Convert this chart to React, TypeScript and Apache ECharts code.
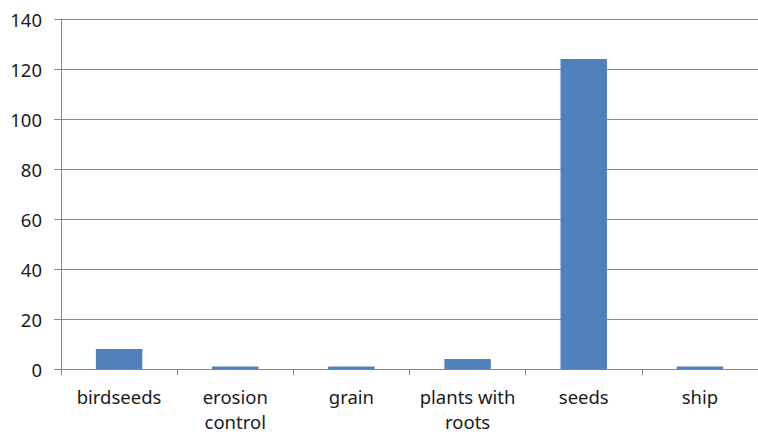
import React, { useEffect, useRef } from "react";
import * as echarts from "echarts";

const categories = ["birdseeds", "erosion\ncontrol", "grain", "plants with\nroots", "seeds", "ship"];
const values = [8, 1, 1, 4, 124, 1];

export default function App() {
  const ref = useRef<HTMLDivElement>(null);
  useEffect(() => {
    if (!ref.current) return;
    const chart = echarts.init(ref.current, null, { renderer: "svg" });
    const font = "'Noto Sans', sans-serif";
    chart.setOption({
      animation: false,
      backgroundColor: "#ffffff",
      grid: { left: 61, right: 0, top: 19, bottom: 62, containLabel: false },
      xAxis: {
        type: "category",
        data: categories,
        axisLine: { show: true, lineStyle: { color: "#868686", width: 1 } },
        axisTick: { show: true, length: 6, alignWithLabel: false, lineStyle: { color: "#868686" } },
        axisLabel: { color: "#1a1a1a", fontSize: 18.5, fontFamily: font, margin: 15, lineHeight: 25, interval: 0 },
        splitLine: { show: false },
      },
      yAxis: {
        type: "value",
        min: 0,
        max: 140,
        interval: 20,
        axisLine: { show: true, lineStyle: { color: "#868686", width: 1 } },
        axisTick: { show: true, length: 7, lineStyle: { color: "#868686" } },
        axisLabel: { color: "#1a1a1a", fontSize: 18.5, fontFamily: font, margin: 19 },
        splitLine: { show: true, lineStyle: { color: "#868686", width: 1 } },
      },
      series: [
        {
          type: "bar",
          data: values,
          barWidth: "40%",
          itemStyle: { color: "#4F81BD" },
        },
      ],
    });
    return () => chart.dispose();
  }, []);
  return (
    <div
      ref={ref}
      style={{ position: "absolute", left: 0, top: 0, width: 758, height: 434 }}
    />
  );
}
